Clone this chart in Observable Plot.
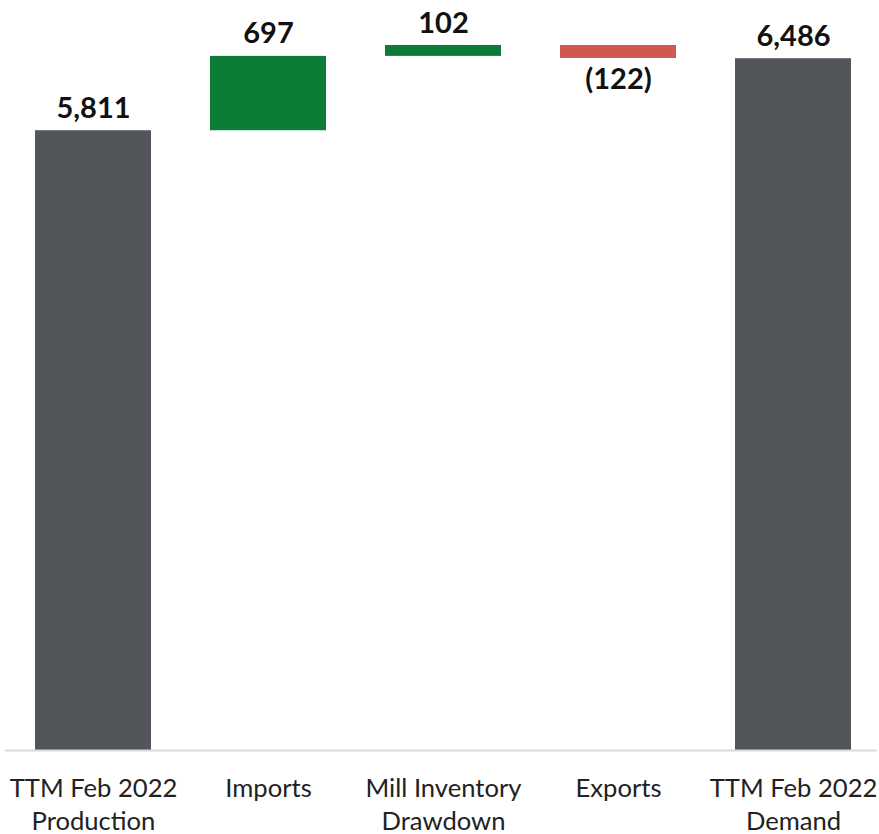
<!DOCTYPE html>
<html>
<head>
<meta charset="utf-8">
<script src="https://cdn.jsdelivr.net/npm/d3@7"></script>
<script src="https://cdn.jsdelivr.net/npm/@observablehq/plot@0.6"></script>
<style>
  html, body { margin: 0; padding: 0; background: #fff; }
  #chart { width: 879px; height: 834px; }
</style>
</head>
<body>
<div id="chart"></div>
<script>
const categories = [
  "TTM Feb 2022\nProduction",
  "Imports",
  "Mill Inventory\nDrawdown",
  "Exports",
  "TTM Feb 2022\nDemand"
];
const values = [5811, 697, 102, -122, 6486];
const kinds = ["total", "increase", "increase", "decrease", "total"];

const colors = {total: "#525559", increase: "#0b7b35", decrease: "#d0584e"};
const fmt = d3.format(",");

let running = 0;
const data = categories.map((c, i) => {
  let y1, y2;
  if (kinds[i] === "total") { y1 = 0; y2 = values[i]; running = values[i]; }
  else { y1 = running; y2 = running + values[i]; running = y2; }
  return {
    category: c,
    value: values[i],
    kind: kinds[i],
    y1, y2,
    top: Math.max(y1, y2),
    bottom: Math.min(y1, y2),
    label: values[i] < 0 ? `(${fmt(-values[i])})` : fmt(values[i])
  };
});

const chart = Plot.plot({
  width: 879,
  height: 834,
  marginTop: 45,
  marginBottom: 84,
  marginLeft: 7,
  marginRight: 0,
  style: {fontFamily: "Lato, sans-serif", background: "#fff"},
  x: {domain: categories, paddingInner: 0.338, paddingOuter: 0.16, label: null},
  y: {domain: [0, 6610], axis: null},
  marks: [
    Plot.barY(data, {x: "category", y1: "y1", y2: "y2", fill: d => colors[d.kind]}),
    Plot.ruleY([0], {stroke: "#d9d9d9", strokeWidth: 2, dx: -2}),
    Plot.text(data.filter(d => d.kind !== "decrease"), {
      x: "category", y: "top", text: "label", lineAnchor: "bottom", dy: -13,
      fontSize: 29, fontWeight: "bold", fill: "#111"
    }),
    Plot.text(data.filter(d => d.kind === "decrease"), {
      x: "category", y: "bottom", text: "label", lineAnchor: "top", dy: 10,
      fontSize: 29, fontWeight: "bold", fill: "#111"
    }),
    Plot.axisX({tickSize: 0, tickPadding: 23, fontSize: 25.6, lineHeight: 1.3, label: null, fill: "#222"})
  ]
});
document.getElementById("chart").appendChild(chart);
</script>
</body>
</html>
